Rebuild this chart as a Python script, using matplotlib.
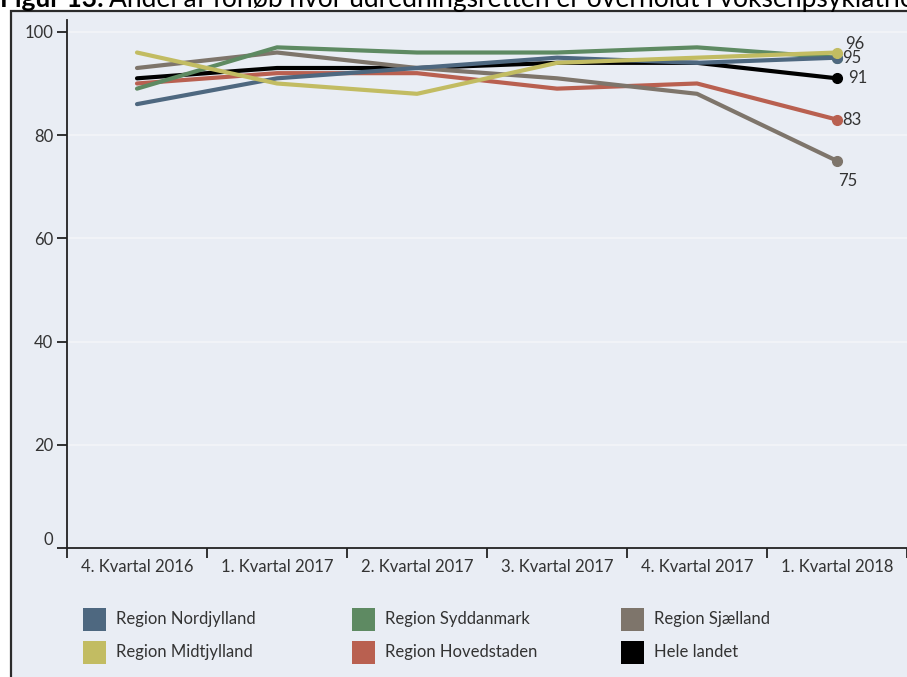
import matplotlib
matplotlib.use("Agg")
import matplotlib.pyplot as plt
from matplotlib.patches import Rectangle

# Data
kvartaler = ['4. Kvartal 2016', '1. Kvartal 2017', '2. Kvartal 2017',
             '3. Kvartal 2017', '4. Kvartal 2017', '1. Kvartal 2018']
nordjylland = [86, 91, 93, 95, 94, 95]
syddanmark = [89, 97, 96, 96, 97, 95]
sjaelland = [93, 96, 93, 91, 88, 75]
midtjylland = [96, 90, 88, 94, 95, 96]
hovedstaden = [90, 92, 92, 89, 90, 83]
hele_landet = [91, 93, 93, 94, 94, 91]
y_ticks = [0, 20, 40, 60, 80, 100]

serier = [
    ('Region Nordjylland', nordjylland, '#4E6880'),
    ('Region Syddanmark', syddanmark, '#5E8A62'),
    ('Region Sjælland', sjaelland, '#7E756B'),
    ('Region Midtjylland', midtjylland, '#C2BC62'),
    ('Region Hovedstaden', hovedstaden, '#B96050'),
    ('Hele landet', hele_landet, '#000000'),
]
# tegne-rækkefølge (nederst først)
tegne_orden = ['Hele landet', 'Region Hovedstaden', 'Region Sjælland',
               'Region Syddanmark', 'Region Nordjylland', 'Region Midtjylland']
# offset (px) for slut-etiketter
etiket_offset = {
    'Region Midtjylland': (8, 9, 'left'),
    'Region Nordjylland': (5, 0, 'left'),
    'Hele landet': (11, 0, 'left'),
    'Region Hovedstaden': (5, 0, 'left'),
    'Region Sjælland': (11, -20, 'center'),
}

plt.rcParams['font.family'] = ['Lato', 'DejaVu Sans']
tekst_farve = '#333333'
bg = '#E9EDF4'

W, H = 907, 677
fig = plt.figure(figsize=(W / 100, H / 100), dpi=100)
fig.patch.set_facecolor('white')

# ramme med baggrund
fig.add_artist(Rectangle((11 / W, -20 / H), 930 / W, (H - 11 + 20) / H,
                         transform=fig.transFigure, facecolor=bg,
                         edgecolor='#2b2b2b', linewidth=1.6, zorder=0))

# titel (øverste del er skåret af, som i originalen)
t1 = fig.text(0 / W, 1 - 7 / H, 'Figur 13:', fontsize=19, fontweight='bold',
              color='black', va='baseline', ha='left')
fig.canvas.draw()
bb = t1.get_window_extent()
fig.text((bb.x1 + 5) / W, 1 - 7 / H,
         'Andel af forløb hvor udredningsretten er overholdt i voksenpsykiatrien',
         fontsize=19, color='black', va='baseline', ha='left')

ax = fig.add_axes([67 / W, (H - 548) / H, 840 / W, 528 / H])
ax.set_facecolor(bg)
ax.patch.set_alpha(0)

x = list(range(len(kvartaler)))
navne = {n: (v, c) for n, v, c in serier}
for z, navn in enumerate(tegne_orden):
    v, c = navne[navn]
    ax.plot(x, v, color=c, linewidth=3, solid_capstyle='round',
            solid_joinstyle='round', zorder=3 + z)
    ax.plot(x[-1], v[-1], 'o', color=c, markersize=7, zorder=3 + z)
    if navn in etiket_offset:
        dx, dy, ha = etiket_offset[navn]
        ax.annotate(str(v[-1]), (x[-1], v[-1]), xytext=(dx * 0.72, dy * 0.72),
                    textcoords='offset points', ha=ha, va='center',
                    fontsize=12, color=tekst_farve, zorder=20)

ax.set_xlim(-0.5, len(kvartaler) - 0.5)
ax.set_ylim(0, 102.3)

ax.set_yticks(y_ticks)
ax.set_yticklabels([str(t) for t in y_ticks], fontsize=12, color=tekst_farve)
ax.get_yticklabels()[0].set_va('bottom')
ax.tick_params(axis='y', length=7, width=1.3, color='#222222', pad=3)

ax.set_xticks([i - 0.5 for i in range(len(kvartaler) + 1)])
ax.set_xticklabels([])
ax.set_xticks(x, minor=True)
ax.set_xticklabels(kvartaler, minor=True, fontsize=12, color=tekst_farve)
ax.tick_params(axis='x', which='major', length=7, width=1.3, color='#222222')
ax.tick_params(axis='x', which='minor', length=0, pad=8)

ax.grid(axis='y', color='#F3F5F8', linewidth=1.2, zorder=1)
ax.set_axisbelow(True)
for s in ['top', 'right']:
    ax.spines[s].set_visible(False)
for s in ['left', 'bottom']:
    ax.spines[s].set_color('#222222')
    ax.spines[s].set_linewidth(1.3)
ax.spines['bottom'].set_zorder(30)

# forklaring
legend_orden = ['Region Nordjylland', 'Region Syddanmark', 'Region Sjælland',
                'Region Midtjylland', 'Region Hovedstaden', 'Hele landet']
for i, navn in enumerate(legend_orden):
    col, row = i % 3, i // 3
    x0 = 83 + col * 269
    yc = 619 + row * 33
    fig.add_artist(Rectangle((x0 / W, 1 - (yc + 12) / H), 23 / W, 23 / H,
                             transform=fig.transFigure,
                             facecolor=navne[navn][1], edgecolor='none'))
    fig.text((x0 + 33) / W, 1 - yc / H, navn, fontsize=12, color=tekst_farve,
             va='center', ha='left')

fig.savefig('out.png', dpi=100, facecolor=fig.get_facecolor())
